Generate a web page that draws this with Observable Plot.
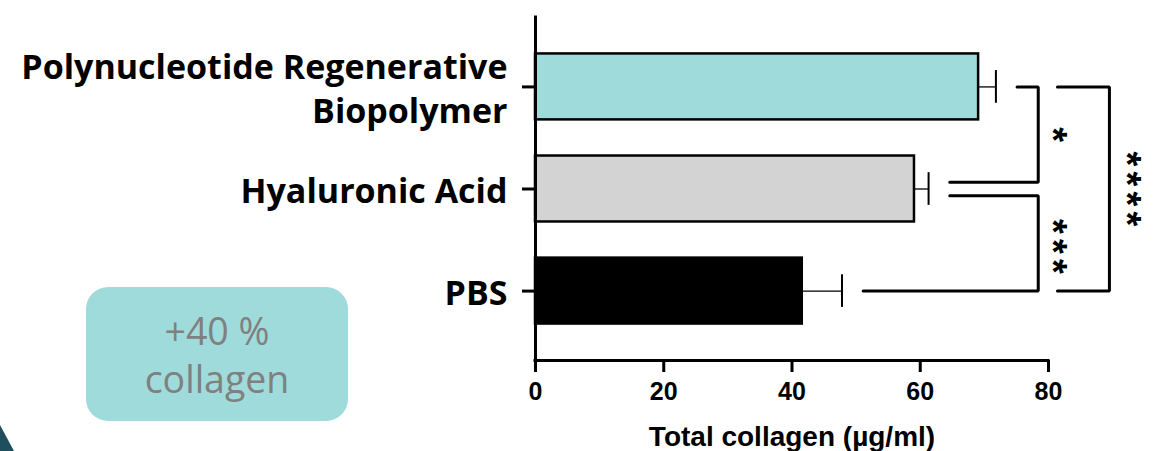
<!DOCTYPE html>
<html><head><meta charset="utf-8">
<script src="https://cdn.jsdelivr.net/npm/d3@7"></script>
<script src="https://cdn.jsdelivr.net/npm/@observablehq/plot@0.6"></script>
<style>
html,body{margin:0;padding:0;background:#fff;width:1164px;height:451px;overflow:hidden;}
#wrap{position:relative;width:1164px;height:451px;}
#chart{position:absolute;left:0;top:0;}
#box{position:absolute;left:86px;top:287px;width:262px;height:134px;border-radius:22px;background:#9fdbdb;color:#808080;font-family:"Open Sans",sans-serif;font-size:37.5px;line-height:48px;text-align:center;display:flex;flex-direction:column;justify-content:center;}
#box div{position:relative;top:1px;}
#corner{position:absolute;left:0;top:0;pointer-events:none;}
</style></head><body>
<div id="wrap">
<div id="chart"></div>
<div id="box"><div>+40 %</div><div>collagen</div></div>
<svg id="corner" width="1164" height="451"><polygon points="0,425 14,451 0,451" fill="#1f4f5d"/></svg>
</div>
<script>
// ---- data ----
const groups = ["Polynucleotide Regenerative Biopolymer", "Hyaluronic Acid", "PBS"];
const groupLabels = ["Polynucleotide Regenerative\nBiopolymer", "Hyaluronic Acid", "PBS"];
const means = [69.1, 59.1, 41.6];
const sds = [2.7, 2.2, 6.2];
const xTicks = [0, 20, 40, 60, 80];
const compA = [0, 1, 0];
const compB = [1, 2, 2];
const compLabels = ["*", "***", "****"];
const xLabel = "Total collagen (µg/ml)";

// ---- table ----
const data = groups.map((g, i) => ({group: g, i, mean: means[i], sd: sds[i]}));

// ---- layout (bracket geometry, in data units) ----
const yDom = [-0.68, 2.68];
const half = 0.323;
const capHalf = 0.16;
const innerX = 78.4, outerX1 = 81.4, outerX2 = 89.5;
const gap = 3.3, split = 0.065;
const bracketPts = [];
const labelPts = [];
compLabels.forEach((lab, k) => {
  const a = compA[k], b = compB[k];
  const outer = (b - a) > 1;
  let ya = a, yb = b;
  if (!outer) {
    if (a === 1) ya = a + split;
    if (b === 1) yb = b - split;
  }
  if (!outer) {
    const xa = means[a] + sds[a] + gap, xb = means[b] + sds[b] + gap;
    bracketPts.push({k, x: xa, y: ya}, {k, x: innerX, y: ya}, {k, x: innerX, y: yb}, {k, x: xb, y: yb});
    labelPts.push({label: lab, x: innerX + 3.8, y: (ya + yb) / 2 + (lab.length > 1 ? 0.03 : 0)});
  } else {
    bracketPts.push({k, x: outerX1, y: ya}, {k, x: outerX2, y: ya}, {k, x: outerX2, y: yb}, {k, x: outerX1, y: yb});
    labelPts.push({label: lab, x: outerX2 + 4.1, y: (ya + yb) / 2});
  }
});

const chart = Plot.plot({
  width: 1164,
  height: 451,
  marginLeft: 535,
  marginRight: 116,
  marginTop: 17,
  marginBottom: 91,
  style: {background: "transparent", color: "black", overflow: "visible"},
  x: {domain: [0, 80]},
  y: {type: "linear", domain: yDom, reverse: true},
  color: {domain: groups, range: ["#9fdbdb", "#d3d3d3", "#000000"]},
  marks: [
    Plot.rectX(data, {x1: 0, x2: "mean", y1: d => d.i - half, y2: d => d.i + half, fill: "group", stroke: "black", strokeWidth: 2.5}),
    Plot.ruleY(data, {y: "i", x1: "mean", x2: d => d.mean + d.sd, stroke: "black", strokeWidth: 1.3}),
    Plot.ruleX(data, {x: d => d.mean + d.sd, y1: d => d.i - capHalf, y2: d => d.i + capHalf, stroke: "black", strokeWidth: 2}),
    Plot.ruleX([0], {y1: yDom[0], y2: yDom[1], stroke: "black", strokeWidth: 3, strokeLinecap: "square"}),
    Plot.ruleY([yDom[1]], {x1: 0, x2: 80, stroke: "black", strokeWidth: 3, strokeLinecap: "square"}),
    Plot.axisX({ticks: xTicks, tickSize: 12, tickPadding: 10, strokeWidth: 3, fontSize: 25, fontWeight: 700, fontFamily: "Liberation Sans, Arial, sans-serif", label: null}),
    Plot.axisY({ticks: [0, 1, 2], tickFormat: i => groupLabels[i], tickSize: 13, tickPadding: 15, strokeWidth: 3, fontSize: 34, fontWeight: 700, fontFamily: "Open Sans, sans-serif", lineHeight: 1.3, label: null}),
    Plot.line(bracketPts, {x: "x", y: "y", z: "k", stroke: "black", strokeWidth: 3, strokeLinejoin: "miter", curve: "linear"}),
    Plot.text(labelPts, {x: "x", y: "y", text: "label", rotate: 90, fontSize: 38, fontWeight: 700, fontFamily: "Liberation Sans, Arial, sans-serif", dx: -10, dy: 2.5, textAnchor: "middle"}),
    Plot.text([xLabel], {frameAnchor: "bottom", lineAnchor: "middle", dy: 77, fontSize: 28, fontWeight: 700, fontFamily: "Liberation Sans, Arial, sans-serif"})
  ]
});
// spacing between the stacked significance asterisks
d3.select(chart).selectAll("text").filter(function() { return /^\*+$/.test(this.textContent); }).style("letter-spacing", "5.2px");
document.getElementById("chart").appendChild(chart);
</script>
</body></html>
